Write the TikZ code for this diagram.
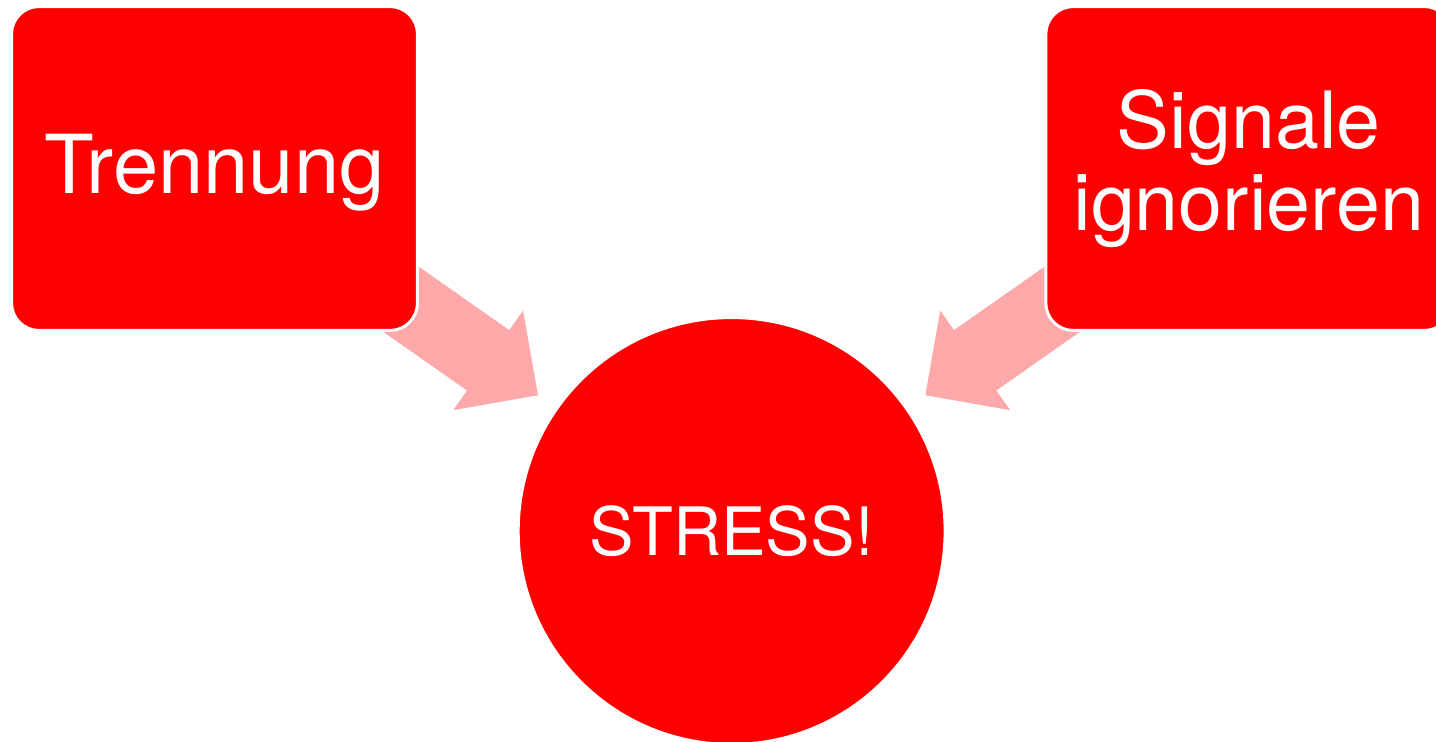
\documentclass[tikz,border=0pt]{standalone}
\usepackage{fontspec}
\setmainfont{TeX Gyre Heros}
\usepackage{tikz}
\usetikzlibrary{positioning,calc,shapes.arrows,backgrounds}
\definecolor{stressrot}{HTML}{FF0000}
\definecolor{pfeilrosa}{HTML}{FDA9A9}

\begin{document}
\begin{tikzpicture}[x=0.02cm, y=-0.02cm,
    box/.style={rectangle, draw=white, line width=0.06cm, fill=stressrot, rounded corners=0.55cm,
                minimum width=8.12cm, minimum height=6.48cm, outer sep=0pt,
                align=center, text=white, font=\fontsize{45}{46.5}\selectfont},
    kreis/.style={circle, draw=white, line width=0.06cm, fill=stressrot, minimum size=8.54cm,
                  text=white, font=\fontsize{38}{40}\selectfont},
    pfeil/.style={single arrow, draw=none, fill=pfeilrosa, minimum height=4cm,
                  inner xsep=0pt, inner ysep=0.73cm, text height=0pt, text depth=0pt,
                  single arrow head extend=0.48cm, sloped, allow upside down}]
    \useasboundingbox (0,0) rectangle (1436,741);
    \clip (0,0) rectangle (1436,741);
    \node[box, font=\fontsize{46.3}{48}\selectfont, text depth=5.4pt] (trenn) at (214.5,168.5) {Trennung};
    \node[box, right=12.57cm of trenn] (signal) {Signale\\ignorieren};
    \node[kreis] (stress) at ($(trenn)!0.5!(signal)+(0,362.5)$) {STRESS!};
    % Pfeile hinter die Kaesten legen
    \begin{scope}[on background layer]
      \path (trenn.center) -- node[pfeil, pos=0.438] {} (stress.center);
      \path (signal.center) -- node[pfeil, pos=0.438] {} (stress.center);
    \end{scope}
  \end{tikzpicture}
\end{document}
